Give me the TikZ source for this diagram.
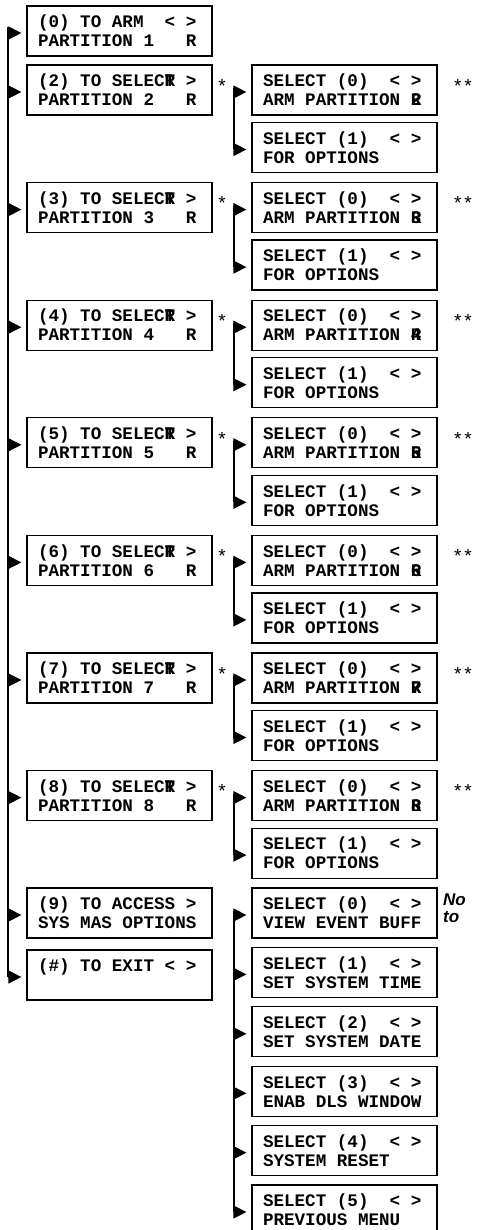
\documentclass[tikz,border=0pt]{standalone}
\usepackage{fontspec}
\setmonofont{Liberation Mono}
\newfontfamily\notefont{Liberation Sans}
\usetikzlibrary{arrows.meta}

\tikzstyle{screen} = [rectangle, draw=black, line width=1.2pt, minimum width=185pt, minimum height=50pt, text width=163pt, inner xsep=11pt, inner ysep=0pt, align=flush left, font=\fontsize{17.6}{19}\selectfont\ttfamily\bfseries]
\tikzstyle{arrow} = [line width=1.2pt, -{Triangle[length=13pt,width=13pt]}, shorten >=5pt, transform canvas={yshift=-2pt}]
\tikzstyle{trunk} = [line width=1.2pt]
\tikzstyle{starmark} = [inner sep=0pt, anchor=north, font=\notefont\fontsize{19}{19}\selectfont]

\begin{document}
\begin{tikzpicture}[x=1pt, y=-1pt, node distance=57.5pt]
			\useasboundingbox (0,0) rectangle (477,1230);

			% main menu
			\node (p0) [screen] at (119.5,31) {(0) TO ARM~~< >\\PARTITION 1~~~R};
			\node (p2) [screen] at (119.5,90) {(2) TO SELEC\rlap{T}R >\\PARTITION 2~~~R};
			\node (p3) [screen] at (119.5,207.6) {(3) TO SELEC\rlap{T}R >\\PARTITION 3~~~R};
			\node (p4) [screen] at (119.5,325.2) {(4) TO SELEC\rlap{T}R >\\PARTITION 4~~~R};
			\node (p5) [screen] at (119.5,442.8) {(5) TO SELEC\rlap{T}R >\\PARTITION 5~~~R};
			\node (p6) [screen] at (119.5,560.4) {(6) TO SELEC\rlap{T}R >\\PARTITION 6~~~R};
			\node (p7) [screen] at (119.5,678) {(7) TO SELEC\rlap{T}R >\\PARTITION 7~~~R};
			\node (p8) [screen] at (119.5,795.6) {(8) TO SELEC\rlap{T}R >\\PARTITION 8~~~R};
			\node (p9) [screen] at (119.5,913) {(9) TO ACCESS >\\SYS MAS OPTIONS};
			\node (px) [screen] at (119.5,975) {(\#) TO EXIT < >\\\phantom{X}};

			% partition sub menus
			\node (s2a) [screen] at (344.5,90) {SELECT (0)~~< >\\ARM PARTITION \rlap{2}R};
			\node (s2b) [screen, below of=s2a] {SELECT (1)~~< >\\FOR OPTIONS};
			\node (s3a) [screen] at (344.5,207.6) {SELECT (0)~~< >\\ARM PARTITION \rlap{3}R};
			\node (s3b) [screen, below of=s3a] {SELECT (1)~~< >\\FOR OPTIONS};
			\node (s4a) [screen] at (344.5,325.2) {SELECT (0)~~< >\\ARM PARTITION \rlap{4}R};
			\node (s4b) [screen, below of=s4a] {SELECT (1)~~< >\\FOR OPTIONS};
			\node (s5a) [screen] at (344.5,442.8) {SELECT (0)~~< >\\ARM PARTITION \rlap{5}R};
			\node (s5b) [screen, below of=s5a] {SELECT (1)~~< >\\FOR OPTIONS};
			\node (s6a) [screen] at (344.5,560.4) {SELECT (0)~~< >\\ARM PARTITION \rlap{6}R};
			\node (s6b) [screen, below of=s6a] {SELECT (1)~~< >\\FOR OPTIONS};
			\node (s7a) [screen] at (344.5,678) {SELECT (0)~~< >\\ARM PARTITION \rlap{7}R};
			\node (s7b) [screen, below of=s7a] {SELECT (1)~~< >\\FOR OPTIONS};
			\node (s8a) [screen] at (344.5,795.6) {SELECT (0)~~< >\\ARM PARTITION \rlap{8}R};
			\node (s8b) [screen, below of=s8a] {SELECT (1)~~< >\\FOR OPTIONS};

			% master options
			\node (m0) [screen] at (344.5,913) {SELECT (0)~~< >\\VIEW EVENT BUFF};
			\node (m1) [screen, node distance=59.4pt, below of=m0] {SELECT (1)~~< >\\SET SYSTEM TIME};
			\node (m2) [screen, node distance=59.4pt, below of=m1] {SELECT (2)~~< >\\SET SYSTEM DATE};
			\node (m3) [screen, node distance=59.4pt, below of=m2] {SELECT (3)~~< >\\ENAB DLS WINDOW};
			\node (m4) [screen, node distance=59.4pt, below of=m3] {SELECT (4)~~< >\\SYSTEM RESET};
			\node (m5) [screen, node distance=59.4pt, below of=m4] {SELECT (5)~~< >\\PREVIOUS MENU};

			% stars and note
			\node (st2) [starmark] at (222,79) {*};
			\node (st3) [starmark] at (222,196.6) {*};
			\node (st4) [starmark] at (222,314.2) {*};
			\node (st5) [starmark] at (222,431.8) {*};
			\node (st6) [starmark] at (222,549.4) {*};
			\node (st7) [starmark] at (222,667) {*};
			\node (st8) [starmark] at (222,784.6) {*};
			\node (dd2) [starmark] at (463,79) {*\hspace{3pt}*};
			\node (dd3) [starmark] at (463,196.6) {*\hspace{3pt}*};
			\node (dd4) [starmark] at (463,314.2) {*\hspace{3pt}*};
			\node (dd5) [starmark] at (463,431.8) {*\hspace{3pt}*};
			\node (dd6) [starmark] at (463,549.4) {*\hspace{3pt}*};
			\node (dd7) [starmark] at (463,667) {*\hspace{3pt}*};
			\node (dd8) [starmark] at (463,784.6) {*\hspace{3pt}*};
			\node (note) [anchor=north west, inner sep=0pt, align=left, font=\notefont\fontsize{17}{17}\selectfont\bfseries\itshape] at (443,894) {No\\to};

			% trunk lines
			\coordinate (mt) at (8,27);
			\coordinate (mb) at (8,977);
			\draw [trunk] (mt) -- (mb);
			\coordinate (t2) at (234,88);
			\coordinate (t3) at (234,205.6);
			\coordinate (t4) at (234,323.2);
			\coordinate (t5) at (234,440.8);
			\coordinate (t6) at (234,558.4);
			\coordinate (t7) at (234,676);
			\coordinate (t8) at (234,793.6);
			\coordinate (tm) at (234,911);
			\draw [trunk] (t2) -- (t2 |- s2b.west) -- ++(0,2);
			\draw [trunk] (t3) -- (t3 |- s3b.west) -- ++(0,2);
			\draw [trunk] (t4) -- (t4 |- s4b.west) -- ++(0,2);
			\draw [trunk] (t5) -- (t5 |- s5b.west) -- ++(0,2);
			\draw [trunk] (t6) -- (t6 |- s6b.west) -- ++(0,2);
			\draw [trunk] (t7) -- (t7 |- s7b.west) -- ++(0,2);
			\draw [trunk] (t8) -- (t8 |- s8b.west) -- ++(0,2);
			\draw [trunk] (tm) -- (tm |- m5.west) -- ++(0,2);

			% arrows into the screens
			\draw [arrow] (mt |- p0.west) -- (p0.west);
			\draw [arrow] (mt |- p2.west) -- (p2.west);
			\draw [arrow] (mt |- p3.west) -- (p3.west);
			\draw [arrow] (mt |- p4.west) -- (p4.west);
			\draw [arrow] (mt |- p5.west) -- (p5.west);
			\draw [arrow] (mt |- p6.west) -- (p6.west);
			\draw [arrow] (mt |- p7.west) -- (p7.west);
			\draw [arrow] (mt |- p8.west) -- (p8.west);
			\draw [arrow] (mt |- p9.west) -- (p9.west);
			\draw [arrow] (mt |- px.west) -- (px.west);
			\draw [arrow] (t2 |- s2a.west) -- (s2a.west);
			\draw [arrow] (t2 |- s2b.west) -- (s2b.west);
			\draw [arrow] (t3 |- s3a.west) -- (s3a.west);
			\draw [arrow] (t3 |- s3b.west) -- (s3b.west);
			\draw [arrow] (t4 |- s4a.west) -- (s4a.west);
			\draw [arrow] (t4 |- s4b.west) -- (s4b.west);
			\draw [arrow] (t5 |- s5a.west) -- (s5a.west);
			\draw [arrow] (t5 |- s5b.west) -- (s5b.west);
			\draw [arrow] (t6 |- s6a.west) -- (s6a.west);
			\draw [arrow] (t6 |- s6b.west) -- (s6b.west);
			\draw [arrow] (t7 |- s7a.west) -- (s7a.west);
			\draw [arrow] (t7 |- s7b.west) -- (s7b.west);
			\draw [arrow] (t8 |- s8a.west) -- (s8a.west);
			\draw [arrow] (t8 |- s8b.west) -- (s8b.west);
			\draw [arrow] (tm |- m0.west) -- (m0.west);
			\draw [arrow] (tm |- m1.west) -- (m1.west);
			\draw [arrow] (tm |- m2.west) -- (m2.west);
			\draw [arrow] (tm |- m3.west) -- (m3.west);
			\draw [arrow] (tm |- m4.west) -- (m4.west);
			\draw [arrow] (tm |- m5.west) -- (m5.west);
		\end{tikzpicture}
\end{document}
